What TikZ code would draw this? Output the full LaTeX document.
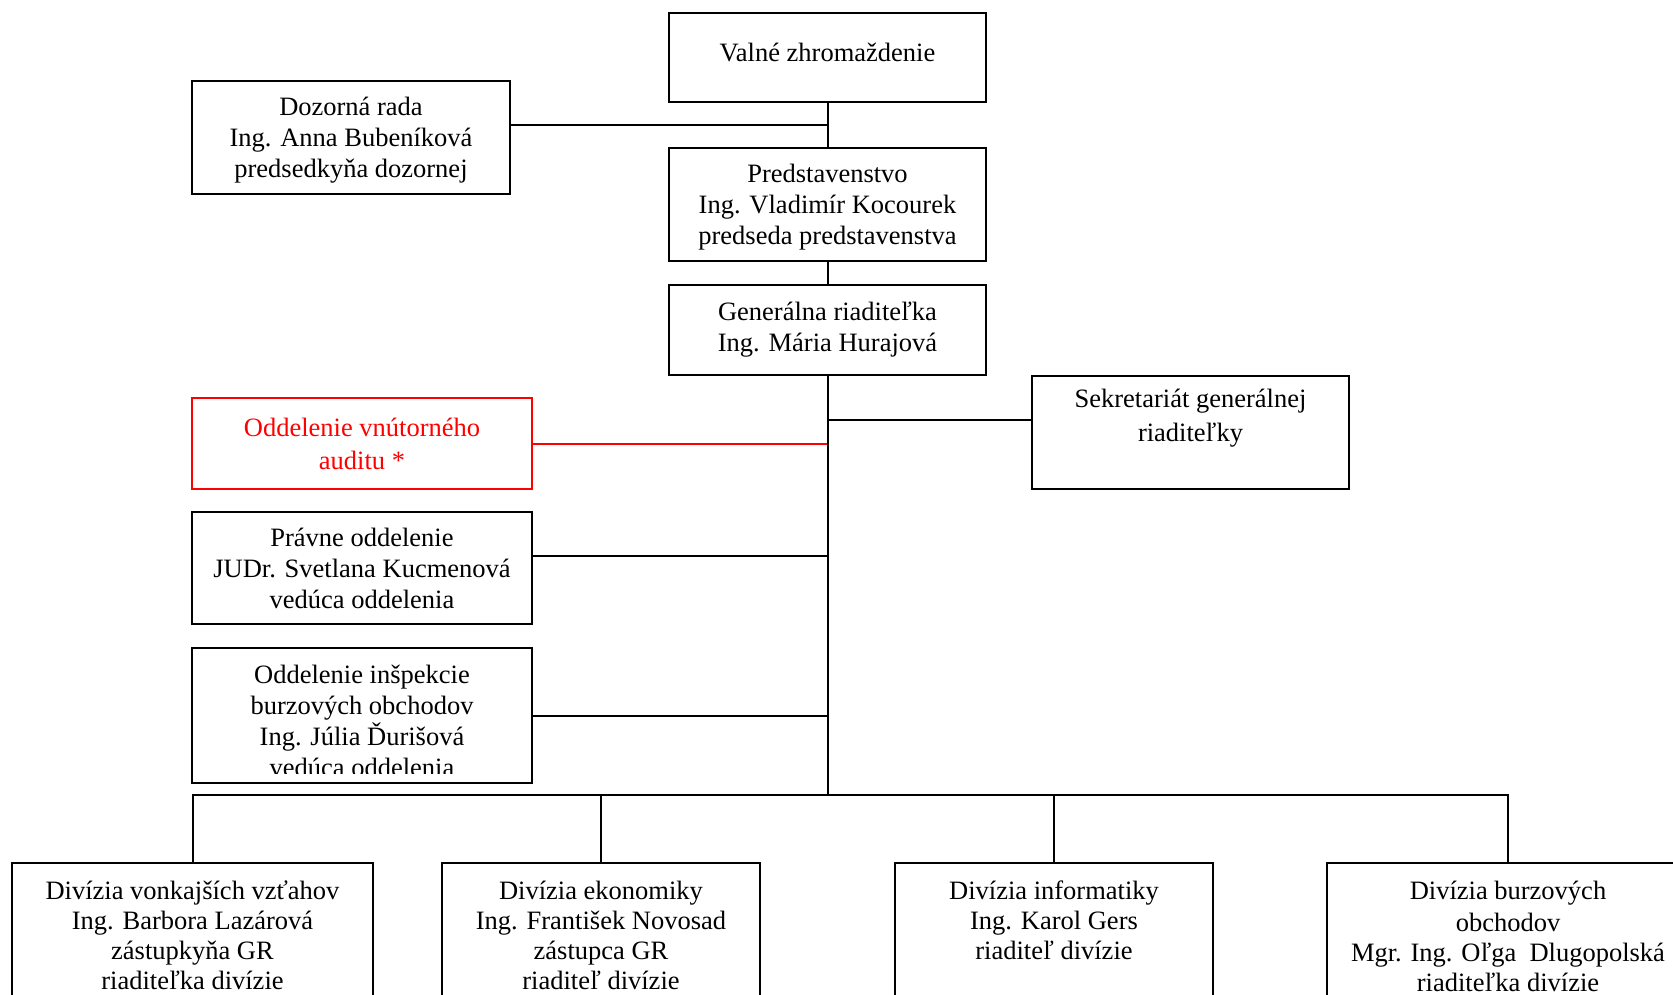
\documentclass[tikz,border=0pt]{standalone}
\usepackage{fontspec}
\setmainfont{Liberation Serif}
\begin{document}
\begin{tikzpicture}[x=1pt,y=-1pt,line width=2pt,
    every node/.style={font=\fontsize{26.5}{31}\selectfont},
    box/.style={draw,inner sep=0pt,align=center},
    txt/.style={inner sep=0pt,align=center,anchor=north}]
  \clip (0,0) rectangle (1673,995);

  % upper part
  \node[box,minimum width=317pt,minimum height=89pt] (vz) at (827.5,57.5) {};
  \node[yshift=5pt] (vzt) at (vz.center) {Valné zhromaždenie};
  \node[box,minimum width=318pt,minimum height=113pt] (dr) at (351,137.5) {};
  \node[align=center,inner sep=0pt,yshift=-3pt] (drt) at (dr.center)
    {Dozorná rada\\Ing. Anna Bubeníková\\predsedkyňa dozornej};
  \node[box,minimum width=317pt,minimum height=113pt] (ps) at (827.5,204.5) {};
  \node[align=center,inner sep=0pt,yshift=-3pt] (pst) at (ps.center)
    {Predstavenstvo\\Ing. Vladimír Kocourek\\predseda predstavenstva};
  \node[box,minimum width=317pt,minimum height=90pt] (gr) at (827.5,330)
    {Generálna riaditeľka\\Ing. Mária Hurajová};
  \node[box,minimum width=317pt,minimum height=113pt] (sg) at (1190.5,432.5) {};
  \node[txt,yshift=-13pt] (sgt) at (sg.north) {Sekretariát generálnej\\[3pt]riaditeľky};

  % left column
  \node[box,draw=red,text=red,minimum width=340pt,minimum height=91pt] (au) at (362,443.5)
    {Oddelenie vnútorného\\[2pt]auditu *};
  \node[box,minimum width=340pt,minimum height=112pt] (pr) at (362,568)
    {Právne oddelenie\\JUDr. Svetlana Kucmenová\\vedúca oddelenia};
  \node[box,minimum width=340pt,minimum height=135pt] (io) at (362,715.5) {};
  \begin{scope}
    \clip ([yshift=11pt]io.south west) rectangle (io.north east);
    \node[inner sep=0pt,align=center,yshift=-5pt] (iot) at (io.center)
      {Oddelenie inšpekcie\\burzových obchodov\\Ing. Júlia Ďurišová\\vedúca oddelenia};
  \end{scope}

  % divisions
  \tikzset{every node/.style={font=\fontsize{26.5}{30}\selectfont}}
  \node[box,minimum width=361pt,minimum height=250pt] (dv) at (192.5,988) {};
  \node[txt,yshift=-18pt] (dvt) at (dv.north)
    {Divízia vonkajších vzťahov\\Ing. Barbora Lazárová\\zástupkyňa GR\\riaditeľka divízie};
  \node[box,minimum width=318pt,minimum height=250pt] (de) at (601,988) {};
  \node[txt,yshift=-18pt] (det) at (de.north)
    {Divízia ekonomiky\\Ing. František Novosad\\zástupca GR\\riaditeľ divízie};
  \node[box,minimum width=318pt,minimum height=250pt] (di) at (1054,988) {};
  \node[txt,yshift=-18pt] (dit) at (di.north)
    {Divízia informatiky\\Ing. Karol Gers\\riaditeľ divízie};
  \node[box,minimum width=362pt,minimum height=250pt] (db) at (1508,988) {};
  \node[txt,yshift=-18pt] (dbt) at (db.north)
    {Divízia burzových\\[2pt]obchodov\\Mgr. Ing. Oľga~~Dlugopolská\\riaditeľka divízie};

  % connectors
  \coordinate (t1) at (827.5,125);
  \coordinate (t2) at (827.5,420);
  \coordinate (t3) at (827.5,556);
  \coordinate (bus) at (827.5,795);

  \draw[red] (au) -- (au -| bus);
  \draw (vz) -- (ps);
  \draw (dr.east |- t1) -- (t1);
  \draw (ps) -- (gr);
  \draw (gr.south) -- (bus);
  \draw (sg.west |- t2) -- (t2);
  \draw (pr.east |- t3) -- (t3);
  \draw (io) -- (io -| bus);
  \draw (dv) |- (bus) -| (db);
  \draw (de) -- (de |- bus);
  \draw (di) -- (di |- bus);
\end{tikzpicture}
\end{document}
